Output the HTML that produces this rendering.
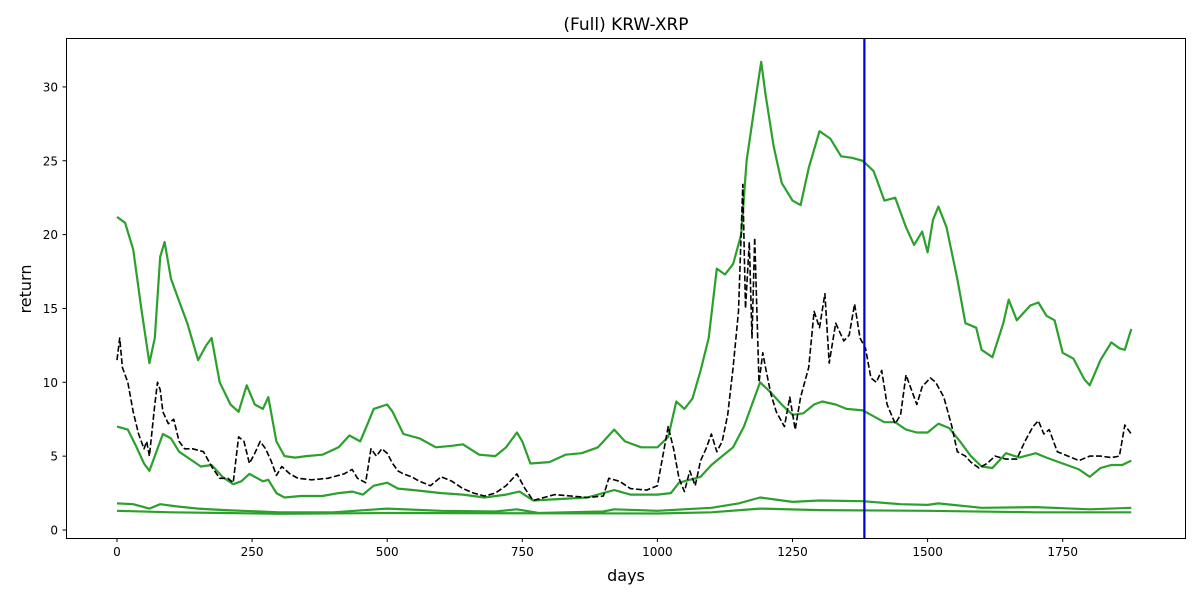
<!DOCTYPE html>
<html><head><meta charset="utf-8"><style>
body{margin:0;background:#fff;font-family:"Liberation Sans","DejaVu Sans",sans-serif}
svg text{font-family:"DejaVu Sans","Liberation Sans",sans-serif}
</style></head><body>
<svg id="chart" width="1200" height="600" xmlns="http://www.w3.org/2000/svg">
<rect x="0" y="0" width="1200" height="600" fill="#fff"/>
<text x="626" y="30" font-size="17" text-anchor="middle">(Full) KRW-XRP</text>
<text x="626" y="581" font-size="16" text-anchor="middle">days</text>
<text x="0" y="0" font-size="16" text-anchor="middle" transform="translate(31,289) rotate(-90)">return</text>
<g id="plot"></g>
<rect x="66.5" y="38.5" width="1119" height="500" fill="none" stroke="#000" stroke-width="1"/>
</svg>
<script>
const xTicks=[0,250,500,750,1000,1250,1500,1750];
const yTicks=[0,5,10,15,20,25,30];
const upperDays=[0,15,30,45,60,70,80,88,100,115,130,150,165,175,190,210,225,240,255,270,280,295,310,330,350,380,410,430,450,465,475,500,510,530,560,590,620,640,670,700,720,740,750,765,800,830,860,890,920,940,970,1000,1020,1035,1050,1065,1080,1095,1110,1125,1140,1155,1165,1175,1185,1192,1200,1215,1230,1250,1265,1280,1300,1320,1340,1360,1380,1400,1420,1440,1460,1475,1490,1500,1510,1520,1535,1555,1570,1590,1600,1620,1640,1650,1665,1690,1705,1720,1735,1750,1770,1790,1800,1820,1840,1855,1865,1877];
const upperVals=[21.2,20.8,19,15,11.3,13,18.5,19.5,17,15.5,14,11.5,12.5,13,10,8.5,8,9.8,8.5,8.2,9,6,5,4.9,5,5.1,5.6,6.4,6,7.3,8.2,8.5,8,6.5,6.2,5.6,5.7,5.8,5.1,5,5.6,6.6,6,4.5,4.6,5.1,5.2,5.6,6.8,6,5.6,5.6,6.3,8.7,8.2,8.9,10.8,13,17.7,17.3,18,20,25,27.5,30,31.7,29.5,26,23.5,22.3,22,24.5,27,26.5,25.3,25.2,25,24.3,22.3,22.5,20.5,19.3,20.2,18.8,21,21.9,20.5,17,14,13.7,12.2,11.7,14,15.6,14.2,15.2,15.4,14.5,14.2,12,11.6,10.2,9.8,11.5,12.7,12.3,12.2,13.6];
const midDays=[0,20,35,50,60,75,85,100,115,135,155,175,195,215,230,245,260,270,280,295,310,340,380,410,435,455,475,500,520,550,600,640,680,720,745,770,820,870,920,950,1000,1025,1040,1060,1080,1100,1120,1140,1160,1175,1190,1210,1230,1250,1270,1290,1305,1330,1350,1380,1400,1420,1440,1460,1480,1500,1520,1540,1560,1580,1600,1620,1645,1670,1700,1720,1750,1780,1800,1820,1840,1860,1877];
const midVals=[7,6.8,5.7,4.5,4,5.5,6.5,6.2,5.3,4.8,4.3,4.4,3.6,3.1,3.3,3.8,3.5,3.3,3.4,2.5,2.2,2.3,2.3,2.5,2.6,2.4,3,3.2,2.8,2.7,2.5,2.4,2.2,2.4,2.6,2,2.1,2.2,2.7,2.4,2.4,2.5,3.2,3.4,3.6,4.4,5,5.6,7,8.5,10,9.3,8.5,7.8,7.9,8.5,8.7,8.5,8.2,8.1,7.7,7.3,7.3,6.8,6.6,6.6,7.2,6.9,6,5,4.3,4.2,5.2,4.9,5.2,4.9,4.5,4.1,3.6,4.2,4.4,4.4,4.7];
const lowDays=[0,30,60,80,110,150,200,300,400,500,600,700,740,780,900,920,1000,1100,1150,1190,1250,1300,1380,1450,1500,1520,1600,1700,1800,1877];
const lowVals=[1.8,1.75,1.45,1.75,1.6,1.45,1.35,1.2,1.2,1.45,1.3,1.25,1.4,1.15,1.25,1.4,1.3,1.5,1.8,2.2,1.9,2.0,1.95,1.75,1.7,1.8,1.5,1.55,1.4,1.5];
const lowestDays=[0,100,200,300,500,1000,1100,1190,1300,1500,1700,1877];
const lowestVals=[1.3,1.2,1.15,1.1,1.15,1.12,1.2,1.45,1.35,1.3,1.2,1.2];
const priceDays=[0,5,10,20,30,40,50,55,60,70,75,80,85,95,105,115,125,140,160,175,190,205,215,225,235,245,255,265,275,285,295,305,320,335,360,390,420,435,445,460,470,480,490,500,510,520,530,545,560,580,600,620,640,660,680,700,720,740,755,770,790,810,840,870,900,910,930,950,980,1000,1010,1020,1030,1040,1050,1060,1070,1080,1090,1100,1110,1120,1130,1140,1150,1158,1163,1170,1175,1180,1188,1195,1200,1210,1220,1235,1245,1255,1265,1280,1290,1300,1310,1318,1330,1345,1355,1365,1375,1385,1395,1405,1415,1425,1440,1450,1460,1470,1480,1490,1505,1515,1530,1545,1555,1570,1580,1595,1610,1625,1645,1665,1680,1695,1705,1715,1725,1740,1760,1780,1800,1820,1840,1855,1865,1877];
const priceVals=[11.5,13,11,10,8,6.5,5.5,6,5,8.5,10,9.5,8,7.2,7.5,6,5.5,5.5,5.3,4.3,3.5,3.5,3.2,6.3,6,4.5,5.2,6,5.5,4.7,3.7,4.3,3.8,3.5,3.4,3.5,3.8,4.1,3.5,3.2,5.5,5,5.5,5.2,4.5,4,3.8,3.6,3.3,3,3.6,3.3,2.8,2.5,2.3,2.5,3,3.8,2.8,2,2.2,2.4,2.3,2.2,2.3,3.5,3.3,2.8,2.7,3,5,7,5.5,3.5,2.6,4,3,4.7,5.5,6.5,5.3,6,7.8,11,14.8,23.4,15,19.5,13,19.8,10,12,11,9.2,8,7,9,6.8,9,11,14.8,13.7,16,11.3,14,12.8,13.2,15.3,13,12.3,10.3,10,10.8,8.5,7.2,7.8,10.5,9.5,8.5,9.7,10.3,10,9,7,5.3,5,4.6,4.2,4.5,5,4.8,4.8,6,7,7.4,6.5,6.8,5.3,5,4.7,5,5,4.9,5,7.1,6.5];
const markerDay=1383;

const NS="http://www.w3.org/2000/svg";
const X=d=>117+d*0.5404;
const Y=v=>530-v*14.77;
const plot=document.getElementById('plot');
function mk(tag,attrs){const e=document.createElementNS(NS,tag);for(const k in attrs)e.setAttribute(k,attrs[k]);plot.appendChild(e);return e;}
xTicks.forEach(t=>{
  const l=mk('line',{x1:X(t),x2:X(t),y1:538.5,y2:542,stroke:'#000'});
  
  
  const tx=mk('text',{x:X(t),y:556,'font-size':12,'text-anchor':'middle'});tx.textContent=t;
  
  
});
yTicks.forEach(t=>{
  const l=mk('line',{x1:62.5,x2:66.5,y1:Y(t),y2:Y(t),stroke:'#000'});
  
  
  const tx=mk('text',{x:58,y:Y(t)+4.5,'font-size':12,'text-anchor':'end'});tx.textContent=t;
  
  
});
function line(days,vals,attrs){return mk('polyline',Object.assign({points:days.map((d,i)=>X(d).toFixed(1)+','+Y(vals[i]).toFixed(1)).join(' '),fill:'none','stroke-linejoin':'round'},attrs));}
const g1=line(lowestDays,lowestVals,{stroke:'#2ca02c','stroke-width':2.2});


const g2=line(lowDays,lowVals,{stroke:'#2ca02c','stroke-width':2.2});


const g3=line(midDays,midVals,{stroke:'#2ca02c','stroke-width':2.2});


const g4=line(upperDays,upperVals,{stroke:'#2ca02c','stroke-width':2.2});


const p=line(priceDays,priceVals,{stroke:'#000','stroke-width':1.6,'stroke-dasharray':'6,2.5'});


const v=mk('line',{x1:X(markerDay),x2:X(markerDay),y1:38.5,y2:538.5,stroke:'#0000cc','stroke-width':2.2});


</script>
</body></html>
